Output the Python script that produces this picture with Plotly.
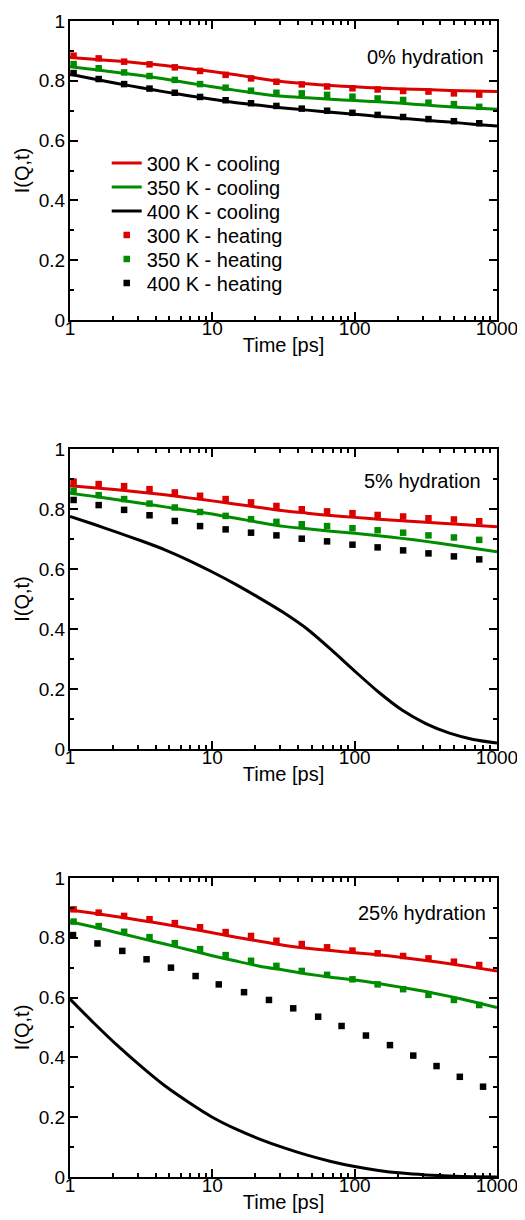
import plotly.graph_objects as go
from plotly.subplots import make_subplots

# time grid of the cooling curves (ps)
t_cool = [1, 1.47, 2.15, 3.16, 4.64, 6.81, 10, 14.7, 21.5, 31.6, 46.4, 68.1, 100, 147, 215, 316, 464, 681, 1000]
# time points of the heating runs (ps)
t_heat = [1.06, 1.59, 2.4, 3.62, 5.45, 8.2, 12.4, 18.7, 28.2, 42.5, 64, 96.5, 145, 219, 330, 498, 750]
t_heat_25_400 = [1.05, 1.56, 2.33, 3.45, 5.12, 7.63, 11.1, 16.7, 25.0, 37.0, 55.4, 80.9, 120, 177, 258, 376, 548, 798]

# 0% hydration
h0_300_cool = [0.878, 0.872, 0.866, 0.859, 0.851, 0.841, 0.831, 0.820, 0.808, 0.797, 0.790, 0.784, 0.780, 0.776, 0.773, 0.771, 0.768, 0.766, 0.764]
h0_350_cool = [0.847, 0.838, 0.828, 0.818, 0.806, 0.793, 0.780, 0.768, 0.757, 0.748, 0.743, 0.738, 0.734, 0.730, 0.725, 0.719, 0.713, 0.709, 0.705]
h0_400_cool = [0.822, 0.806, 0.791, 0.777, 0.763, 0.750, 0.738, 0.727, 0.718, 0.709, 0.702, 0.695, 0.688, 0.681, 0.675, 0.668, 0.662, 0.655, 0.649]
h0_300_heat = [0.884, 0.875, 0.864, 0.855, 0.845, 0.833, 0.820, 0.808, 0.797, 0.788, 0.781, 0.775, 0.771, 0.766, 0.764, 0.758, 0.754]
h0_350_heat = [0.856, 0.842, 0.828, 0.816, 0.803, 0.789, 0.777, 0.767, 0.760, 0.758, 0.753, 0.747, 0.741, 0.736, 0.727, 0.722, 0.713]
h0_400_heat = [0.826, 0.806, 0.789, 0.774, 0.760, 0.746, 0.735, 0.725, 0.716, 0.707, 0.700, 0.693, 0.686, 0.679, 0.672, 0.665, 0.658]

# 5% hydration
h5_300_cool = [0.877, 0.871, 0.864, 0.856, 0.847, 0.837, 0.827, 0.816, 0.805, 0.794, 0.786, 0.778, 0.772, 0.766, 0.761, 0.756, 0.751, 0.746, 0.741]
h5_350_cool = [0.852, 0.842, 0.831, 0.819, 0.807, 0.795, 0.783, 0.769, 0.755, 0.742, 0.734, 0.726, 0.719, 0.711, 0.702, 0.692, 0.681, 0.669, 0.657]
h5_400_cool = [0.775, 0.749, 0.722, 0.694, 0.664, 0.629, 0.590, 0.548, 0.503, 0.455, 0.400, 0.332, 0.260, 0.190, 0.130, 0.085, 0.053, 0.032, 0.020]
h5_300_heat = [0.891, 0.883, 0.876, 0.866, 0.855, 0.844, 0.833, 0.822, 0.810, 0.799, 0.792, 0.786, 0.780, 0.775, 0.769, 0.765, 0.759]
h5_350_heat = [0.861, 0.846, 0.833, 0.818, 0.805, 0.790, 0.777, 0.766, 0.757, 0.749, 0.743, 0.736, 0.729, 0.721, 0.712, 0.705, 0.697]
h5_400_heat = [0.830, 0.813, 0.797, 0.779, 0.760, 0.743, 0.732, 0.721, 0.712, 0.701, 0.692, 0.681, 0.672, 0.662, 0.652, 0.642, 0.632]

# 25% hydration
h25_300_cool = [0.893, 0.882, 0.870, 0.858, 0.845, 0.831, 0.817, 0.802, 0.788, 0.775, 0.765, 0.757, 0.750, 0.743, 0.734, 0.724, 0.713, 0.701, 0.689]
h25_350_cool = [0.854, 0.836, 0.817, 0.798, 0.779, 0.760, 0.740, 0.722, 0.705, 0.692, 0.679, 0.668, 0.659, 0.647, 0.634, 0.620, 0.604, 0.586, 0.567]
h25_400_cool = [0.595, 0.515, 0.440, 0.370, 0.305, 0.250, 0.200, 0.160, 0.127, 0.098, 0.073, 0.052, 0.035, 0.022, 0.013, 0.007, 0.003, 0.001, 0.000]
h25_300_heat = [0.895, 0.884, 0.873, 0.862, 0.849, 0.835, 0.819, 0.806, 0.790, 0.779, 0.768, 0.757, 0.748, 0.739, 0.731, 0.720, 0.709]
h25_350_heat = [0.854, 0.839, 0.820, 0.802, 0.782, 0.762, 0.742, 0.723, 0.706, 0.689, 0.676, 0.661, 0.644, 0.628, 0.609, 0.592, 0.575]
h25_400_heat = [0.809, 0.781, 0.756, 0.728, 0.700, 0.672, 0.644, 0.618, 0.592, 0.564, 0.536, 0.505, 0.473, 0.441, 0.406, 0.371, 0.335, 0.302]

panel_labels = ["0% hydration", "5% hydration", "25% hydration"]
series_names = ["300 K - cooling", "350 K - cooling", "400 K - cooling",
                "300 K - heating", "350 K - heating", "400 K - heating"]
colors = ["#dc0000", "#008c00", "#000000"]

FONT = "Liberation Sans, Arial, Helvetica, sans-serif"

panels = [
    (h0_300_cool, h0_350_cool, h0_400_cool, h0_300_heat, h0_350_heat, h0_400_heat, t_heat),
    (h5_300_cool, h5_350_cool, h5_400_cool, h5_300_heat, h5_350_heat, h5_400_heat, t_heat),
    (h25_300_cool, h25_350_cool, h25_400_cool, h25_300_heat, h25_350_heat, h25_400_heat, t_heat_25_400),
]

fig = make_subplots(rows=3, cols=1)

legend_ids = ["legend", "legend2", "legend3", "legend4", "legend5", "legend6"]

for p, (c300, c350, c400, h300, h350, h400, t400) in enumerate(panels):
    row = p + 1
    first = p == 0
    for k, yv in enumerate([c300, c350, c400]):
        fig.add_trace(
            go.Scatter(
                x=t_cool, y=yv, mode="lines",
                name=series_names[k],
                line=dict(color=colors[k], width=3, shape="spline", smoothing=0.6),
                showlegend=first, legend=legend_ids[k],
            ),
            row=row, col=1,
        )
    for k, (tv, yv) in enumerate([(t_heat, h300), (t_heat, h350), (t400, h400)]):
        fig.add_trace(
            go.Scatter(
                x=tv, y=yv, mode="markers",
                name=series_names[k + 3],
                marker=dict(symbol="square", size=6.5, color=colors[k]),
                cliponaxis=False,
                showlegend=first, legend=legend_ids[k + 3],
            ),
            row=row, col=1,
        )

# panel placement (paper fractions inside margins)
domains = [[0.7413, 1.0], [0.3702, 0.6298], [0.0, 0.2587]]
label_pos = [(0.974, 0.880), (0.967, 0.894), (0.980, 0.882)]

minor_x = [m * d for d in (1, 10, 100) for m in range(2, 10)]

for p in range(3):
    row = p + 1
    fig.update_xaxes(
        type="log", range=[0, 3], dtick=1, automargin=False,
        showline=True, linecolor="black", linewidth=2, mirror="ticks",
        ticks="inside", ticklen=8, tickwidth=2, tickcolor="black",
        ticklabelstandoff=-10,
        minor=dict(tickvals=minor_x, ticks="inside", ticklen=4, tickwidth=2,
                   tickcolor="black", showgrid=False),
        showgrid=False, zeroline=False,
        tickfont=dict(size=19, color="black", family=FONT),
        title=dict(text="Time [ps]", font=dict(size=20, color="black", family=FONT), standoff=0),
        domain=[0, 1],
        row=row, col=1,
    )
    fig.update_yaxes(
        range=[0, 1], dtick=0.2, automargin=False,
        showline=True, linecolor="black", linewidth=2, mirror="ticks",
        ticks="inside", ticklen=8, tickwidth=2, tickcolor="black",
        ticklabelstandoff=-1,
        minor=dict(dtick=0.1, ticks="inside", ticklen=4, tickwidth=2,
                   tickcolor="black", showgrid=False),
        showgrid=False, zeroline=False,
        tickfont=dict(size=19, color="black", family=FONT),
        title=dict(text="I(Q,t)", font=dict(size=20, color="black", family=FONT), standoff=4),
        domain=domains[p],
        row=row, col=1,
    )
    xs = "x" if p == 0 else f"x{row}"
    ys = "y" if p == 0 else f"y{row}"
    fig.add_annotation(
        text=panel_labels[p], showarrow=False,
        xref=f"{xs} domain", yref=f"{ys} domain",
        x=label_pos[p][0], y=label_pos[p][1],
        xanchor="right", yanchor="middle",
        font=dict(size=20, color="black", family=FONT),
    )

# one legend per entry so the rows can sit close together
legend_rows = [0.8772, 0.8564, 0.8356, 0.8149, 0.7941, 0.7734]
legend_layout = {}
for lid, yy in zip(legend_ids, legend_rows):
    legend_layout[lid] = dict(
        x=0.086, y=yy, xanchor="left", yanchor="middle",
        bgcolor="rgba(0,0,0,0)", borderwidth=0,
        font=dict(size=20, color="black", family=FONT),
    )

# the page adds an 8 px body margin, so the figure is 16 px smaller than the window
fig.update_layout(
    width=517, height=1212,
    margin=dict(l=62, r=28, t=13, b=43),
    paper_bgcolor="white", plot_bgcolor="white",
    font=dict(family=FONT, color="black"),
    **legend_layout,
)

fig.write_html("out.html")
